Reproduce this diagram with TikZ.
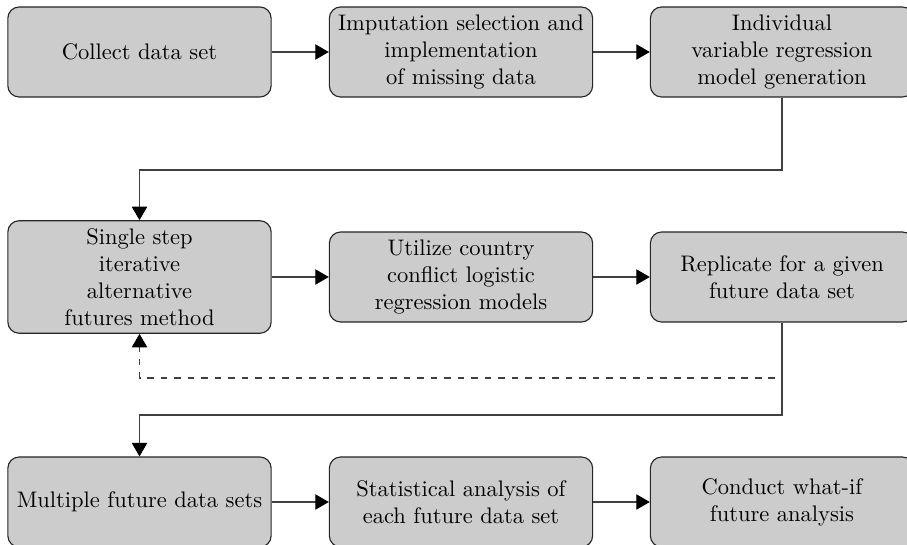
\documentclass[tikz,border=0pt]{standalone}
\usetikzlibrary{arrows.meta}
\begin{document}
\begin{tikzpicture}[x=0.4444pt,y=-0.4444pt,
  procbox/.style={draw=black!85, fill=black!20, rounded corners=5pt, line width=0.5pt,
    minimum width=117pt, minimum height=40pt, align=center, inner sep=2pt},
  tallbox/.style={procbox, minimum height=50pt},
  arr/.style={draw=black!75, line width=0.5pt, -{Triangle[length=6pt,width=6.8pt,color=black]}},
  dasharr/.style={arr, dashed}]
\clip (0,0) rectangle (907,545);
\node[procbox] (collect) at (139.5,52) {Collect data set};
\node[procbox] (impute) at (461,52) {Imputation selection and\\implementation\\of missing data};
\node[procbox] (indiv) at (782,52) {Individual\\variable regression\\model generation};
\node[tallbox] (single) at (139.5,277) {Single step\\iterative\\alternative\\futures method};
\node[procbox] (utilize) at (461,277) {Utilize country\\conflict logistic\\regression models};
\node[procbox] (replicate) at (782,277) {Replicate for a given\\future data set};
\node[procbox] (multiple) at (139.5,502) {Multiple future data sets};
\node[procbox] (stat) at (461,502) {Statistical analysis of\\each future data set};
\node[procbox] (conduct) at (782,502) {Conduct what-if\\future analysis};
\coordinate (k1) at (460,170);
\coordinate (k2) at (460,415);
\coordinate (d1) at (775,378);
\draw[arr] (collect) -- (impute);
\draw[arr] (impute) -- (indiv);
\draw[arr] (indiv.south) |- (k1) -| (single.north);
\draw[arr] (single) -- (utilize);
\draw[arr] (utilize) -- (replicate);
\draw[dasharr] (d1) -| (single.south);
\draw[arr] (replicate.south) |- (k2) -| (multiple.north);
\draw[arr] (multiple) -- (stat);
\draw[arr] (stat) -- (conduct);
\end{tikzpicture}
\end{document}
